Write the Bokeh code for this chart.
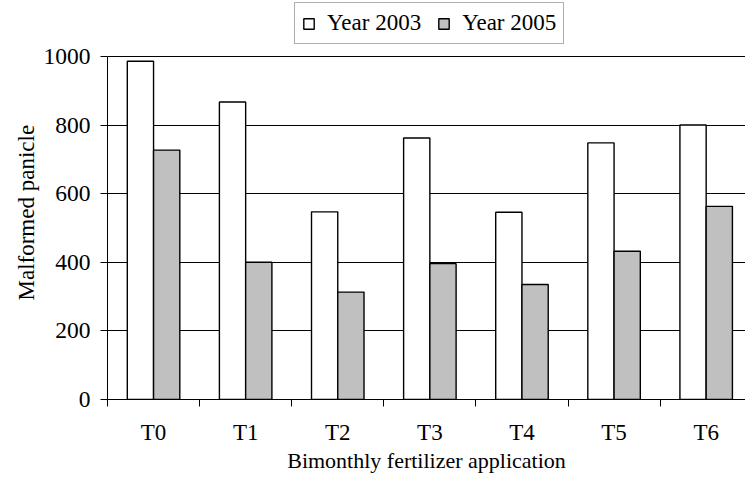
import numpy as np
from bokeh.plotting import figure
from bokeh.models import (ColumnDataSource, Range1d, FixedTicker, CustomJSTickFormatter,
                          Legend, LegendItem, Title)
from bokeh.embed import file_html
from bokeh.resources import INLINE

# Malformed panicles per fertilizer treatment
treatments = ["T0", "T1", "T2", "T3", "T4", "T5", "T6"]
year_2003 = [986, 867, 547, 762, 546, 748, 800]
year_2005 = [727, 400, 313, 396, 335, 432, 563]
y_ticks = [0, 200, 400, 600, 800, 1000]

FONT = "Liberation Serif"
BAR_W = 0.285

idx = np.arange(len(treatments))
src = ColumnDataSource(dict(
    x03=idx + 0.5 - BAR_W / 2,
    x05=idx + 0.5 + BAR_W / 2,
    y03=year_2003,
    y05=year_2005,
))

# the frame reaches the top edge so the legend can sit above the 1000 line;
# the y axis itself is bounded to 0..1000
p = figure(width=745, height=483, output_backend="svg", toolbar_location=None,
           x_range=Range1d(0, 6.927), y_range=Range1d(0, 1163),
           min_border_left=107, min_border_right=0, min_border_top=0,
           min_border_bottom=84)
p.outline_line_color = None
p.background_fill_color = "white"
p.border_fill_color = "white"

r03 = p.vbar(x="x03", top="y03", width=BAR_W, source=src,
             fill_color="white", line_color="black", line_width=1.4)
r05 = p.vbar(x="x05", top="y05", width=BAR_W, source=src,
             fill_color="#c0c0c0", line_color="black", line_width=1.4)

# gridlines
p.xgrid.grid_line_color = None
p.ygrid.grid_line_color = "black"
p.ygrid.grid_line_width = 1
p.ygrid.ticker = FixedTicker(ticks=y_ticks)

# x axis: labels at category centres, ticks on category boundaries
xa = p.xaxis[0]
xa.ticker = FixedTicker(ticks=list(idx + 0.5), minor_ticks=list(range(len(treatments) + 1)))
xa.formatter = CustomJSTickFormatter(args=dict(labels=treatments),
                                     code="return labels[Math.floor(tick)];")
xa.major_tick_out = 0
xa.major_tick_in = 0
xa.minor_tick_out = 7
xa.minor_tick_in = 0
xa.minor_tick_line_color = "black"
xa.axis_line_color = "black"
xa.major_label_standoff = 13
xa.major_label_text_font = FONT
xa.major_label_text_font_size = "23px"
xa.major_label_text_color = "black"
xa.axis_label = "Bimonthly fertilizer application"
xa.axis_label_text_font = FONT
xa.axis_label_text_font_size = "22px"
xa.axis_label_text_font_style = "normal"
xa.axis_label_text_color = "black"
xa.axis_label_standoff = 0

ya = p.yaxis[0]
ya.bounds = (0, 1000)
ya.ticker = FixedTicker(ticks=y_ticks)
ya.major_tick_out = 7
ya.major_tick_in = 0
ya.major_tick_line_color = "black"
ya.minor_tick_line_color = None
ya.axis_line_color = "black"
ya.major_label_standoff = 10
ya.major_label_text_font = FONT
ya.major_label_text_font_size = "23.5px"
ya.major_label_text_color = "black"

# y axis title, measured up from the bottom of the frame
p.add_layout(Title(text="Malformed panicle", align="left", offset=99,
                   text_font=FONT, text_font_size="23px", text_font_style="normal",
                   text_color="black", standoff=4), "left")

legend = Legend(items=[LegendItem(label="Year 2003", renderers=[r03]),
                       LegendItem(label="Year 2005", renderers=[r05])],
                orientation="horizontal", location=(187, 355),
                label_text_font=FONT, label_text_font_size="23px",
                label_text_color="black",
                glyph_width=13, glyph_height=13, label_standoff=12,
                spacing=16, padding=7, margin=0,
                border_line_color="#606060", border_line_width=1,
                background_fill_color="white", background_fill_alpha=1)
p.add_layout(legend, "center")

open("out.html", "w").write(file_html(p, INLINE))
